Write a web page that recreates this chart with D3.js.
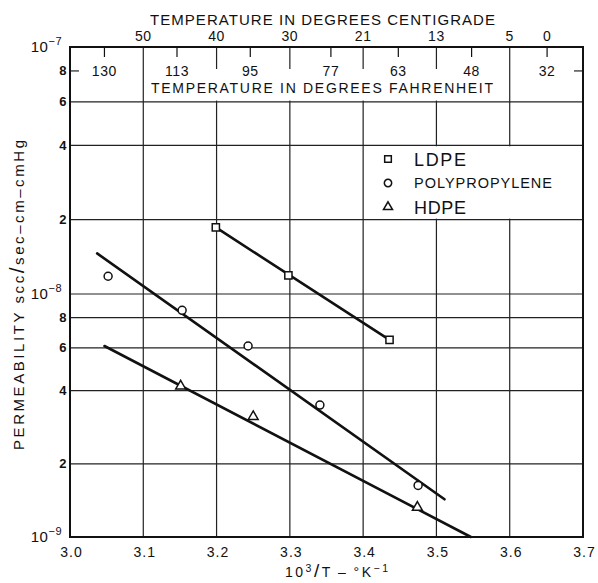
<!DOCTYPE html>
<html>
<head>
<meta charset="utf-8">
<script src="https://cdn.jsdelivr.net/npm/d3@7"></script>
<style>
  body { margin: 0; background: #fff; }
  svg { display: block; }
  text { font-family: "Liberation Sans", Arial, sans-serif; fill: #111; }
</style>
</head>
<body>
<svg id="chart" width="598" height="583"></svg>
<script>
// Measured permeabilities (scc/sec-cm-cmHg) against 10^3/T (1/K)
const ldpeX = [3.199, 3.298, 3.436];
const ldpeP = [1.86e-8, 1.19e-8, 6.47e-9];
const ppX = [3.052, 3.153, 3.243, 3.341, 3.475];
const ppP = [1.18e-8, 8.57e-9, 6.11e-9, 3.49e-9, 1.63e-9];
const hdpeX = [3.151, 3.250, 3.474];
const hdpeP = [4.18e-9, 3.13e-9, 1.325e-9];

// Straight-line fits on the semilog plot (end points)
const ldpeFitX = [3.199, 3.436];
const ldpeFitP = [1.86e-8, 6.47e-9];
const ppFitX = [3.037, 3.511];
const ppFitP = [1.46e-8, 1.43e-9];
const hdpeFitX = [3.047, 3.547];
const hdpeFitP = [6.11e-9, 1.0e-9];

// Axis ticks
const xTicks = [3.0, 3.1, 3.2, 3.3, 3.4, 3.5, 3.6, 3.7];
const yGrid = [2e-9, 4e-9, 6e-9, 8e-9, 1e-8, 2e-8, 4e-8, 6e-8];
const yMinorTicks = [2e-9, 4e-9, 6e-9, 8e-9, 2e-8, 4e-8, 6e-8, 8e-8];
const yMinorLabels = ["2", "4", "6", "8", "2", "4", "6", "8"];
const yDecades = [1e-9, 1e-8, 1e-7];
const yDecadeExp = ["\u22129", "\u22128", "\u22127"];

// Secondary temperature scales along the top
const celsiusLabels = ["50", "40", "30", "21", "13", "5", "0"];
const celsiusPos = [3.1, 3.2, 3.3, 3.4, 3.5, 3.6, 3.651];
const fahrenheitLabels = ["130", "113", "95", "77", "63", "48", "32"];
const fahrenheitPos = [3.047, 3.146, 3.246, 3.356, 3.448, 3.548, 3.651];

const seriesNames = ["LDPE", "POLYPROPYLENE", "HDPE"];

const svg = d3.select("#chart");
const x = d3.scaleLinear().domain([3.0, 3.7]).range([70, 583]);
const y = d3.scaleLog().domain([1e-9, 1e-8, 1e-7]).range([537, 294, 47]);

const ink = "#111";
const x0 = x(3.0), x1 = x(3.7), yTop = y(1e-7), yBot = y(1e-9);

// Grid
const grid = svg.append("g").attr("stroke", "#222").attr("stroke-width", 1.2);
grid.selectAll("line.v").data(xTicks.slice(1, -1)).join("line")
  .attr("x1", d => x(d)).attr("x2", d => x(d))
  .attr("y1", yTop).attr("y2", yBot);
grid.selectAll("line.h").data(yGrid).join("line")
  .attr("x1", x0).attr("x2", x1)
  .attr("y1", d => y(d)).attr("y2", d => y(d));
// the 8e-8 rule is only stubbed at both edges (label strip)
grid.append("line").attr("x1", x0).attr("x2", x0 + 9)
  .attr("y1", y(8e-8)).attr("y2", y(8e-8));
grid.append("line").attr("x1", x1 - 9).attr("x2", x1)
  .attr("y1", y(8e-8)).attr("y2", y(8e-8));

// Cleared panel behind the Fahrenheit caption
svg.append("rect")
  .attr("x", x(3.1) + 1.5).attr("width", x(3.6) - x(3.1) - 3)
  .attr("y", 69).attr("height", y(6e-8) - 69 - 1.2)
  .attr("fill", "#fff");

// Cleared panel for the legend
svg.append("rect")
  .attr("x", x(3.4) + 1).attr("width", x(3.7) - x(3.4) - 2)
  .attr("y", y(4e-8) + 1).attr("height", y(2e-8) - y(4e-8) - 2)
  .attr("fill", "#fff");

// Frame
svg.append("rect")
  .attr("x", x0).attr("y", yTop).attr("width", x1 - x0).attr("height", yBot - yTop)
  .attr("fill", "none").attr("stroke", ink).attr("stroke-width", 2);

// Fahrenheit ticks hanging from the top edge
svg.append("g").attr("stroke", ink).attr("stroke-width", 1.2)
  .selectAll("line").data(fahrenheitPos).join("line")
  .attr("x1", d => x(d)).attr("x2", d => x(d))
  .attr("y1", yTop).attr("y2", yTop + 10);

// Fahrenheit labels
svg.append("g").selectAll("text").data(fahrenheitLabels).join("text")
  .attr("x", (d, i) => x(fahrenheitPos[i])).attr("y", 75.5)
  .attr("text-anchor", "middle").attr("font-size", 14)
  .attr("letter-spacing", 0.6).text(d => d);

// Celsius labels above the frame
svg.append("g").selectAll("text").data(celsiusLabels).join("text")
  .attr("x", (d, i) => x(celsiusPos[i])).attr("y", 41)
  .attr("text-anchor", "middle").attr("font-size", 14)
  .attr("letter-spacing", 0.6).text(d => d);

svg.append("text").attr("x", 150).attr("y", 24.5)
  .attr("font-size", 15).attr("textLength", 345).attr("lengthAdjust", "spacing")
  .text("TEMPERATURE IN DEGREES CENTIGRADE");
svg.append("text").attr("x", 151).attr("y", 92.5)
  .attr("font-size", 14).attr("textLength", 342).attr("lengthAdjust", "spacing")
  .text("TEMPERATURE IN DEGREES FAHRENHEIT");

// Bottom axis labels
svg.append("g").selectAll("text").data(xTicks).join("text")
  .attr("x", d => x(d) + 1.5).attr("y", 557)
  .attr("text-anchor", "middle").attr("font-size", 14)
  .attr("letter-spacing", 1).text(d => d.toFixed(1));

const xt = svg.append("text").attr("x", 285).attr("y", 577).attr("font-size", 14)
  .attr("textLength", 103).attr("lengthAdjust", "spacing");
xt.append("tspan").text("10");
xt.append("tspan").attr("dy", -5).attr("font-size", 10.5).text("3");
xt.append("tspan").attr("dy", 5).attr("font-size", 19).text("/");
xt.append("tspan").text("T\u2009\u2013\u2009\u00B0K");
xt.append("tspan").attr("dy", -5).attr("font-size", 10.5).text("\u22121");

// Left axis labels
svg.append("g").selectAll("text").data(yMinorTicks).join("text")
  .attr("x", 66.5).attr("y", d => y(d) + 4.5)
  .attr("text-anchor", "end").attr("font-size", 13).attr("font-weight", "bold")
  .text((d, i) => yMinorLabels[i]);

const dec = svg.append("g").selectAll("text").data(yDecades).join("text")
  .attr("x", 62).attr("y", d => y(d) + 5)
  .attr("text-anchor", "end").attr("font-size", 15)
  .attr("letter-spacing", 0.5);
dec.append("tspan").text("10");
dec.append("tspan").attr("dy", -7).attr("font-size", 11)
  .text((d, i) => yDecadeExp[i]);

// Left axis title
const yt = svg.append("text")
  .attr("transform", "translate(23.5,450) rotate(-90)")
  .attr("font-size", 15).attr("textLength", 310).attr("lengthAdjust", "spacing");
yt.append("tspan").text("PERMEABILITY scc");
yt.append("tspan").attr("font-size", 21).text("/");
yt.append("tspan").text("sec\u2013cm\u2013cmHg");

// Fit lines
const line = d3.line().x(d => x(d[0])).y(d => y(d[1]));
const fits = [
  d3.zip(ldpeFitX, ldpeFitP),
  d3.zip(ppFitX, ppFitP),
  d3.zip(hdpeFitX, hdpeFitP)
];
svg.append("g").selectAll("path").data(fits).join("path")
  .attr("d", line).attr("fill", "none").attr("stroke", ink)
  .attr("stroke-width", 2.6).attr("stroke-linecap", "round");

// Markers
const symbols = [d3.symbolSquare, d3.symbolCircle, d3.symbolTriangle];
const sizes = [52, 50, 42];
const series = [
  d3.zip(ldpeX, ldpeP),
  d3.zip(ppX, ppP),
  d3.zip(hdpeX, hdpeP)
];
series.forEach((pts, k) => {
  svg.append("g").selectAll("path").data(pts).join("path")
    .attr("transform", d => `translate(${x(d[0])},${y(d[1])})`)
    .attr("d", d3.symbol(symbols[k], sizes[k]))
    .attr("fill", "#fff").attr("stroke", ink).attr("stroke-width", 1.5);
});

// Legend
const legendY = [159, 183, 207];
const legendFont = [18, 14.5, 18];
const legendLen = [52, 138, 52];
const lg = svg.append("g");
seriesNames.forEach((name, k) => {
  lg.append("path")
    .attr("transform", `translate(388,${legendY[k]})`)
    .attr("d", d3.symbol(symbols[k], sizes[k] * 0.85))
    .attr("fill", "#fff").attr("stroke", ink).attr("stroke-width", 1.5);
  lg.append("text").attr("x", 414).attr("y", legendY[k] + (k === 1 ? 5.3 : 6.6))
    .attr("font-size", legendFont[k])
    .attr("textLength", legendLen[k]).attr("lengthAdjust", "spacing")
    .text(name);
});
</script>
</body>
</html>
